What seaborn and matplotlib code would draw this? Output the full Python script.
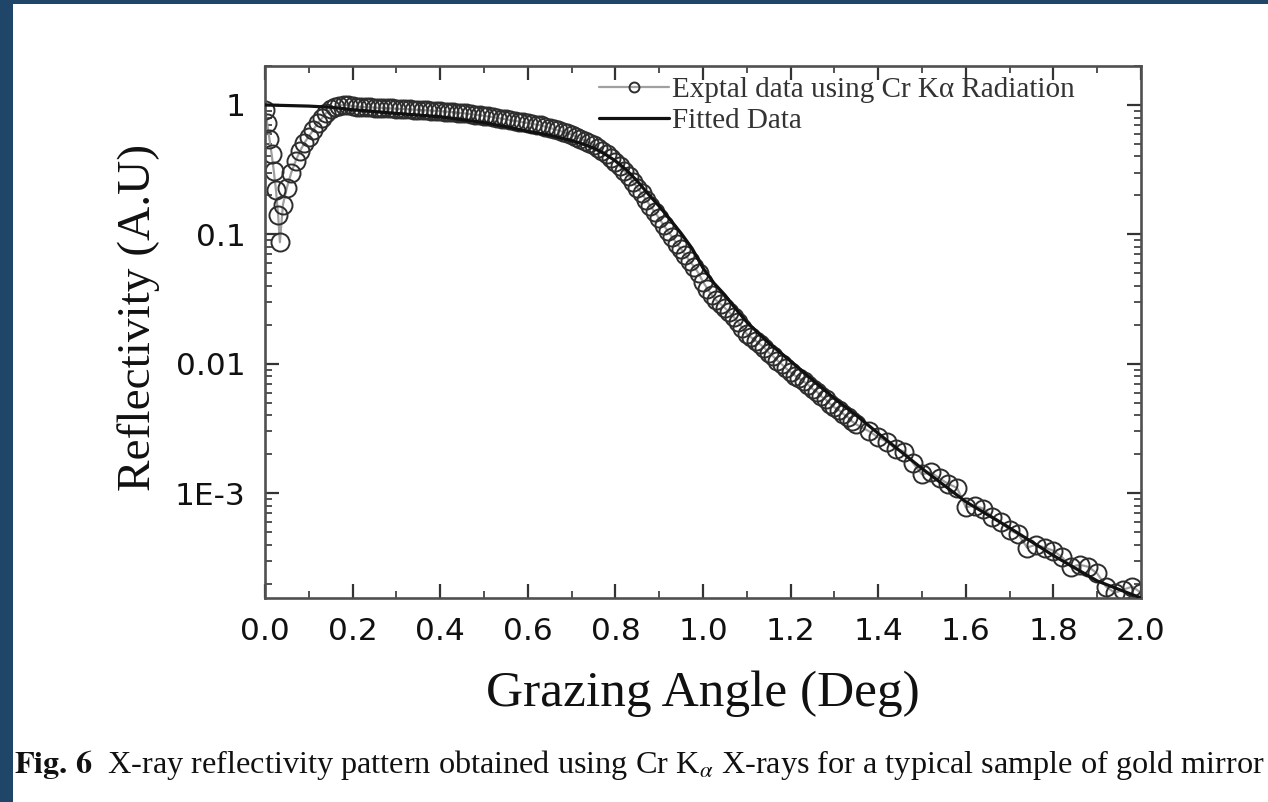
import numpy as np
import pandas as pd
import matplotlib
matplotlib.use("Agg")
import matplotlib.pyplot as plt
import matplotlib.ticker as mticker
from matplotlib.patches import Rectangle
import seaborn as sns

# ---------------- data ----------------
exp_x = [0.000, 0.005, 0.010, 0.015, 0.020, 0.025, 0.030, 0.034,
         0.041, 0.050, 0.060, 0.070, 0.080, 0.090, 0.100, 0.110, 0.120, 0.130,
         0.140, 0.150, 0.160, 0.170, 0.180, 0.190,
         0.20, 0.21, 0.22, 0.23, 0.24, 0.25, 0.26, 0.27, 0.28, 0.29,
         0.30, 0.31, 0.32, 0.33, 0.34, 0.35, 0.36, 0.37, 0.38, 0.39,
         0.40, 0.41, 0.42, 0.43, 0.44, 0.45, 0.46, 0.47, 0.48, 0.49,
         0.50, 0.51, 0.52, 0.53, 0.54, 0.55, 0.56, 0.57, 0.58, 0.59,
         0.60, 0.61, 0.62, 0.63, 0.64, 0.65, 0.66, 0.67, 0.68, 0.69,
         0.70, 0.71, 0.72, 0.73, 0.74, 0.75, 0.76, 0.77, 0.78, 0.79,
         0.80, 0.81, 0.82, 0.83, 0.84, 0.85, 0.86, 0.87, 0.88, 0.89,
         0.90, 0.91, 0.92, 0.93, 0.94, 0.95, 0.96, 0.97, 0.98, 0.99,
         1.00, 1.01, 1.02, 1.03, 1.04, 1.05, 1.06, 1.07, 1.08, 1.09,
         1.10, 1.11, 1.12, 1.13, 1.14, 1.15, 1.16, 1.17, 1.18, 1.19,
         1.20, 1.21, 1.22, 1.23, 1.24, 1.25, 1.26, 1.27, 1.28, 1.29,
         1.30, 1.31, 1.32, 1.33, 1.34, 1.35,
         1.38, 1.40, 1.42, 1.44, 1.46, 1.48, 1.50, 1.52, 1.54, 1.56, 1.58,
         1.60, 1.62, 1.64, 1.66, 1.68, 1.70, 1.72, 1.74, 1.76, 1.78,
         1.80, 1.82, 1.84, 1.86, 1.88, 1.90, 1.92, 1.94, 1.96, 1.98, 2.00]

exp_y = [0.92, 0.72, 0.55, 0.42, 0.31, 0.22, 0.14, 0.087,
         0.17, 0.23, 0.30, 0.37, 0.44, 0.51, 0.57, 0.64, 0.72, 0.79,
         0.87, 0.93, 0.97, 0.99, 1.00, 1.00,
         0.98, 0.97, 0.965, 0.96, 0.96, 0.955, 0.95, 0.95, 0.945, 0.94,
         0.935, 0.93, 0.93, 0.925, 0.92, 0.915, 0.91, 0.91, 0.905, 0.90,
         0.895, 0.89, 0.885, 0.88, 0.87, 0.865, 0.86, 0.85, 0.84, 0.835,
         0.825, 0.815, 0.805, 0.795, 0.785, 0.775, 0.765, 0.755, 0.745, 0.735,
         0.725, 0.715, 0.705, 0.695, 0.68, 0.665, 0.65, 0.635, 0.62, 0.605,
         0.59, 0.57, 0.55, 0.53, 0.51, 0.49, 0.465, 0.44, 0.415, 0.39,
         0.365, 0.335, 0.31, 0.285, 0.255, 0.23, 0.207, 0.185, 0.165, 0.148,
         0.133, 0.118, 0.106, 0.095, 0.085, 0.077, 0.069, 0.062, 0.056, 0.050,
         0.043, 0.038, 0.034, 0.031, 0.029, 0.027, 0.025, 0.023, 0.021, 0.019,
         0.0170, 0.0160, 0.0151, 0.0142, 0.0133, 0.0122, 0.0114, 0.0106, 0.0099, 0.0092,
         0.0086, 0.0081, 0.0077, 0.0073, 0.0069, 0.0064, 0.0061, 0.0056, 0.0053, 0.0049,
         0.0046, 0.0044, 0.0041, 0.0039, 0.0036, 0.0034,
         0.0030, 0.0027, 0.0025, 0.0022, 0.0021, 0.0017, 0.0014, 0.00145, 0.0013, 0.00118, 0.00110,
         0.00078, 0.00080, 0.00076, 0.00066, 0.00060, 0.00052, 0.00048, 0.00038, 0.00040, 0.00038,
         0.00036, 0.00032, 0.00027, 0.00028, 0.00027, 0.00024, 0.00019, 0.00017, 0.00018, 0.00019, 0.00017]

fit_x = [0.00, 0.05, 0.10, 0.15, 0.20, 0.25, 0.30, 0.35, 0.40, 0.45, 0.50,
         0.55, 0.60, 0.65, 0.70, 0.725, 0.75, 0.775, 0.80, 0.825, 0.85,
         0.875, 0.90, 0.925, 0.95, 0.975, 1.00, 1.025, 1.05, 1.075, 1.10,
         1.15, 1.20, 1.25, 1.30, 1.35, 1.40, 1.50, 1.60, 1.70, 1.80, 1.90, 2.00]
fit_y = [1.00, 0.99, 0.98, 0.96, 0.92, 0.89, 0.86, 0.835, 0.81, 0.77, 0.73,
         0.68, 0.625, 0.585, 0.53, 0.50, 0.465, 0.42, 0.37, 0.315, 0.258,
         0.205, 0.165, 0.13, 0.102, 0.078, 0.055, 0.042, 0.034, 0.0265, 0.021,
         0.0145, 0.0105, 0.0075, 0.0054, 0.0040, 0.0029, 0.00155, 0.00086, 0.00054, 0.00033, 0.00021, 0.000155]

x_ticks = [0.0, 0.2, 0.4, 0.6, 0.8, 1.0, 1.2, 1.4, 1.6, 1.8, 2.0]
x_tick_labels = ["0.0", "0.2", "0.4", "0.6", "0.8", "1.0", "1.2", "1.4", "1.6", "1.8", "2.0"]
y_ticks = [1, 0.1, 0.01, 0.001]
y_tick_labels = ["1", "0.1", "0.01", "1E-3"]

exp_label = "Exptal data using Cr K\u03b1 Radiation"
fit_label = "Fitted Data"
x_title = "Grazing Angle (Deg)"
y_title = "Reflectivity (A.U)"
caption_bold = r"$\mathbf{Fig.\,6}$"
caption_text = r"  X-ray reflectivity pattern obtained using Cr K$_{\alpha}$ X-rays for a typical sample of gold mirror"

# ---------------- plotting ----------------
sns.set_theme(style="ticks")
plt.rcParams["font.family"] = ["Liberation Serif", "DejaVu Serif"]
plt.rcParams["mathtext.fontset"] = "stix"

exp_df = pd.DataFrame({"angle": exp_x, "refl": exp_y})
fit_df = pd.DataFrame({"angle": fit_x, "refl": fit_y})

fig = plt.figure(figsize=(12.68, 8.02), dpi=100, facecolor="#1f4669")
fig.patches.append(Rectangle((13 / 1268, 0), 1, 1 - 4 / 802, transform=fig.transFigure,
                             facecolor="white", edgecolor="none", zorder=-10))
ax = fig.add_axes([265 / 1268, 1 - 598 / 802, 876 / 1268, 532 / 802])
ax.set_zorder(5)
ax.set_facecolor("white")

sns.lineplot(data=exp_df, x="angle", y="refl", ax=ax, sort=False, estimator=None,
             color="#a0a0a0", linewidth=1.6, marker="o", markersize=13,
             markerfacecolor="none", markeredgecolor="#2e2e2e", markeredgewidth=1.4,
             label=exp_label, zorder=2)
sns.lineplot(data=fit_df, x="angle", y="refl", ax=ax, sort=False, estimator=None,
             color="#111111", linewidth=2.3, label=fit_label, zorder=3)

ax.set_yscale("log")
ax.set_xlim(0, 2.0)
ax.set_ylim(1.55e-4, 2.0)

ax.set_xticks(x_ticks)
ax.set_xticklabels(x_tick_labels)
ax.xaxis.set_minor_locator(mticker.MultipleLocator(0.1))
ax.set_yticks(y_ticks)
ax.set_yticklabels(y_tick_labels)
ax.yaxis.set_minor_locator(mticker.LogLocator(base=10, subs=np.arange(2, 10), numticks=20))
ax.yaxis.set_minor_formatter(mticker.NullFormatter())

for lab in ax.get_xticklabels() + ax.get_yticklabels():
    lab.set_fontfamily(["DejaVu Sans"])
    lab.set_fontsize(22.5)
    lab.set_color("#111111")

ax.tick_params(which="major", direction="in", length=10, width=1.6, color="#333333",
               top=True, right=True, pad=14)
ax.tick_params(which="minor", direction="in", length=5, width=1.3, color="#444444",
               top=True, right=True)
for s in ax.spines.values():
    s.set_color("#505050")
    s.set_linewidth(1.9)
    s.set_visible(True)

ax.set_xlabel(x_title, fontsize=37, color="#111111", labelpad=17)
ax.set_ylabel(y_title, fontsize=34, color="#111111")
ax.yaxis.set_label_coords(-0.12, 0.528)

leg = ax.legend(loc="upper left", bbox_to_anchor=(0.368, 1.002), frameon=False,
                fontsize=21, handlelength=2.4, handletextpad=0.1, labelspacing=0.16,
                borderaxespad=0, markerscale=0.55)
for t in leg.get_texts():
    t.set_color("#333333")

fig.text(13 / 1268 + 0.001, 1 - 765 / 802, caption_bold + caption_text, fontsize=23.2,
         color="#111111", va="center", ha="left")

fig.savefig("out.png", dpi=100, facecolor=fig.get_facecolor())
